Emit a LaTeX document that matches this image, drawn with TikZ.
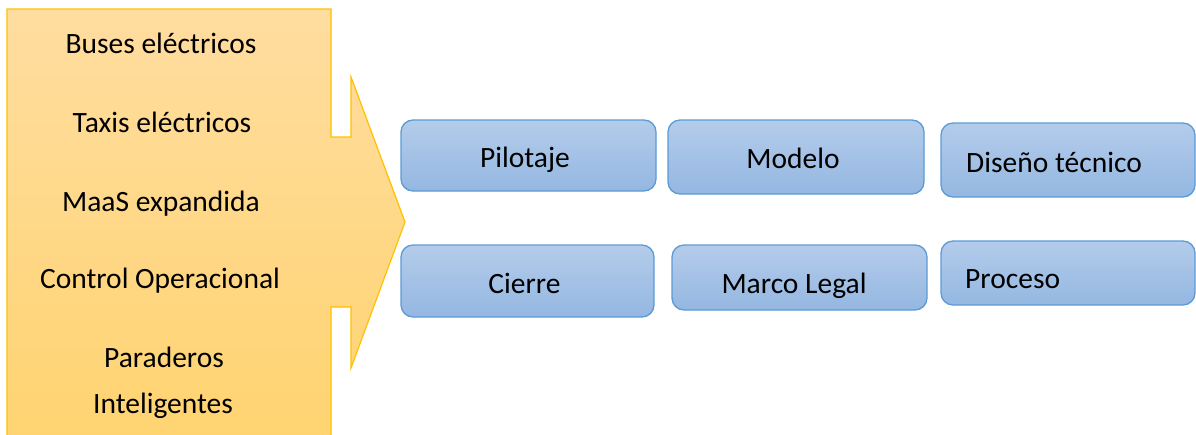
\documentclass[tikz,border=0pt]{standalone}
\usepackage{fontspec}
\setmainfont{Carlito}
\definecolor{ybord}{HTML}{FFC000}
\definecolor{ytop}{HTML}{FFDDA0}
\definecolor{ybot}{HTML}{FFD36E}
\definecolor{bbord}{HTML}{5B9BD5}
\definecolor{btop}{HTML}{B4CCEB}
\definecolor{bbot}{HTML}{94B7E1}
\begin{document}
\begin{tikzpicture}[x=1pt,y=-1pt,
  lbl/.style={font=\fontsize{29.5}{33}\selectfont, anchor=base, inner sep=0pt},
  card/.style={draw=bbord, line width=1.3pt, rounded corners=12pt, top color=btop, bottom color=bbot}]
\useasboundingbox (0,0) rectangle (1196,434);
\clip (0,0) rectangle (1196,434);
% yellow arrow
\path[draw=ybord, line width=1.2pt, top color=ytop, bottom color=ybot, shading angle=0]
  (7,9) -- (331,9) -- (331,137) -- (351,137) -- (351,77) -- (405,222)
  -- (351,368) -- (351,307) -- (331,307) -- (331,460) -- (7,460) -- cycle;
\node[lbl] (t1) at (161,53) {Buses eléctricos};
\node[lbl] (t2) at (162,132) {Taxis eléctricos};
\node[lbl] (t3) at (161,211) {MaaS expandida};
\node[lbl] (t4) at (160,288) {Control Operacional};
\node[lbl] (t5) at (164,367) {Paraderos};
\node[lbl] (t6) at (163,413) {Inteligentes};
% cards
\path[card] (401,120) rectangle (656,191);
\path[card] (668,120) rectangle (924,194);
\path[card] (941,123) rectangle (1195,197);
\path[card] (401,245) rectangle (654,317);
\path[card] (672,245) rectangle (927,310);
\path[card] (941,241) rectangle (1195,305);
\node[lbl] (b1) at (525,167) {Pilotaje};
\node[lbl] (b2) at (793,168) {Modelo};
\node[lbl, anchor=base west] (b3) at (966,172) {Diseño técnico};
\node[lbl] (b4) at (524.5,293) {Cierre};
\node[lbl] (b5) at (794,293) {Marco Legal};
\node[lbl, anchor=base west] (b6) at (965,288) {Proceso};
\end{tikzpicture}
\end{document}
